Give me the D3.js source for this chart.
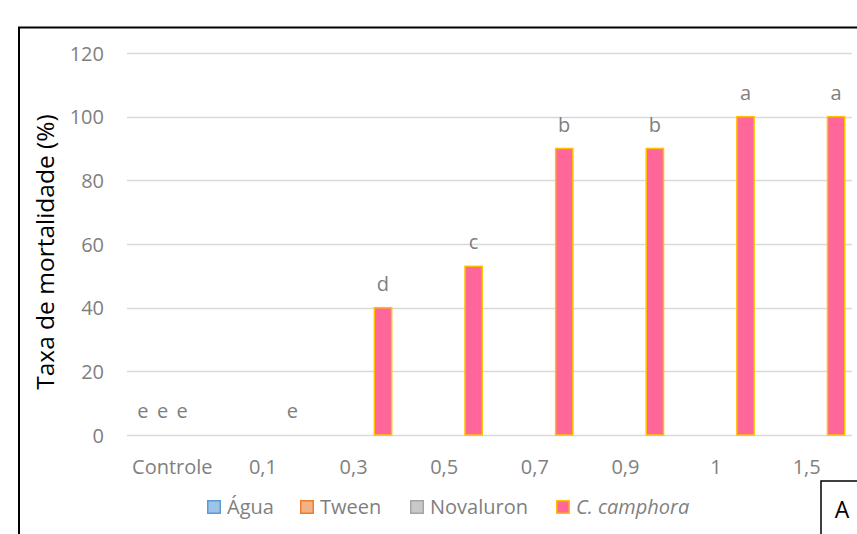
<!DOCTYPE html>
<html>
<head>
<meta charset="utf-8">
<script src="https://cdn.jsdelivr.net/npm/d3@7"></script>
<style>
  html, body { margin: 0; padding: 0; background: #fff; }
  svg { display: block; font-family: "Open Sans", "Noto Sans", sans-serif; }
</style>
</head>
<body>
<svg id="chart" width="857" height="534"></svg>
<script>
// Mortality rate (%) by concentration, one cluster per treatment level
const categories = ["Controle", "0,1", "0,3", "0,5", "0,7", "0,9", "1", "1,5"];
const seriesNames = ["Água", "Tween", "Novaluron", "C. camphora"];

// null = treatment not applied at that level
const agua       = [0, null, null, null, null, null, null, null];
const tween      = [0, null, null, null, null, null, null, null];
const novaluron  = [0, null, null, null, null, null, null, null];
const camphora   = [null, 0, 40, 53, 90, 90, 100, 100];

// Significance letters (Tukey) shown above each bar
const lettersAgua      = ["e", null, null, null, null, null, null, null];
const lettersTween     = ["e", null, null, null, null, null, null, null];
const lettersNovaluron = ["e", null, null, null, null, null, null, null];
const lettersCamphora  = [null, "e", "d", "c", "b", "b", "a", "a"];

const yTicks = [0, 20, 40, 60, 80, 100, 120];

const fills   = ["#9dc3e6", "#f4b183", "#c9c9c9", "#ff6699"];
const strokes = ["#5b9bd5", "#ed7d31", "#a5a5a5", "#ffc000"];

const seriesValues  = [agua, tween, novaluron, camphora];
const seriesLetters = [lettersAgua, lettersTween, lettersNovaluron, lettersCamphora];

const svg = d3.select("#chart");
const plot = { left: 127, right: 852, top: 53, bottom: 435 };
const labelSize = 20;

const x0 = d3.scaleBand()
  .domain(categories)
  .range([plot.left, plot.right])
  .paddingInner(0.16)
  .paddingOuter(0.08);

const x1 = d3.scaleBand()
  .domain(d3.range(seriesNames.length))
  .range([0, x0.bandwidth()])
  .paddingInner(0.12);

const y = d3.scaleLinear().domain([0, 120]).range([plot.bottom, plot.top]);

const tickColor = "#7f7f7f";

// Outer frame (left and top edges visible)
svg.append("path")
  .attr("d", "M19,540 L19,27.5 L870,27.5")
  .attr("fill", "none")
  .attr("stroke", "#000")
  .attr("stroke-width", 2);

// Horizontal gridlines
svg.append("g")
  .selectAll("line")
  .data(yTicks)
  .join("line")
  .attr("x1", plot.left)
  .attr("x2", plot.right)
  .attr("y1", d => Math.round(y(d)) + 0.5)
  .attr("y2", d => Math.round(y(d)) + 0.5)
  .attr("stroke", "#d9d9d9")
  .attr("stroke-width", 1.3);

// Y axis tick labels
const yAxis = d3.axisLeft(y).tickValues(yTicks).tickSize(0).tickPadding(0);
const gy = svg.append("g").attr("transform", `translate(104,0)`).call(yAxis);
gy.select(".domain").remove();
gy.selectAll("text")
  .attr("fill", tickColor)
  .attr("font-size", labelSize)
  .attr("font-family", "'Open Sans', sans-serif")
  .attr("dy", "0.35em");

// X axis category labels
const xAxis = d3.axisBottom(x0).tickSize(0).tickPadding(0);
const gx = svg.append("g").attr("transform", `translate(0,${plot.bottom + 25})`).call(xAxis);
gx.select(".domain").remove();
gx.selectAll("text")
  .attr("fill", tickColor)
  .attr("font-size", labelSize)
  .attr("font-family", "'Open Sans', sans-serif")
  .attr("dy", "0.35em")
  .attr("y", 7);

// Flatten into bar records
const bars = [];
categories.forEach((c, i) => {
  seriesValues.forEach((vals, s) => {
    if (vals[i] !== null) {
      bars.push({ cat: c, s: s, value: vals[i], letter: seriesLetters[s][i] });
    }
  });
});

const gBars = svg.append("g");
gBars.selectAll("rect")
  .data(bars.filter(d => d.value > 0))
  .join("rect")
  .attr("x", d => x0(d.cat) + x1(d.s))
  .attr("y", d => y(d.value))
  .attr("width", x1.bandwidth())
  .attr("height", d => y(0) - y(d.value))
  .attr("fill", d => fills[d.s])
  .attr("stroke", d => strokes[d.s])
  .attr("stroke-width", 1.5);

// Letters above bars
svg.append("g")
  .selectAll("text")
  .data(bars.filter(d => d.letter))
  .join("text")
  .attr("x", d => x0(d.cat) + x1(d.s) + x1.bandwidth() / 2)
  .attr("y", d => y(d.value) - 24)
  .attr("dy", "0.35em")
  .attr("text-anchor", "middle")
  .attr("fill", tickColor)
  .attr("font-size", labelSize)
  .text(d => d.letter);

// Y axis title
svg.append("text")
  .attr("transform", `translate(45,${252}) rotate(-90)`)
  .attr("text-anchor", "middle")
  .attr("dy", "0.35em")
  .attr("fill", "#000")
  .attr("font-size", 24.5)
  .text("Taxa de mortalidade (%)");

// Legend
const legendX = [207, 300, 410, 556];
const legendY = 507;
const lg = svg.append("g")
  .selectAll("g")
  .data(seriesNames)
  .join("g")
  .attr("transform", (d, i) => `translate(${legendX[i]},${legendY})`);
lg.append("rect")
  .attr("x", 0.75)
  .attr("y", -6.25)
  .attr("width", 12.5)
  .attr("height", 12.5)
  .attr("fill", (d, i) => fills[i])
  .attr("stroke", (d, i) => strokes[i])
  .attr("stroke-width", 1.5);
lg.append("text")
  .attr("x", 20)
  .attr("dy", "0.35em")
  .attr("fill", tickColor)
  .attr("font-size", labelSize)
  .attr("font-style", (d, i) => i === 3 ? "italic" : "normal")
  .text(d => d);

// Panel label box
svg.append("rect")
  .attr("x", 821)
  .attr("y", 481)
  .attr("width", 60)
  .attr("height", 60)
  .attr("fill", "#fff")
  .attr("stroke", "#000")
  .attr("stroke-width", 1.5);
svg.append("text")
  .attr("x", 842)
  .attr("y", 510)
  .attr("dy", "0.35em")
  .attr("text-anchor", "middle")
  .attr("fill", "#000")
  .attr("font-size", 23)
  .text("A");
</script>
</body>
</html>
